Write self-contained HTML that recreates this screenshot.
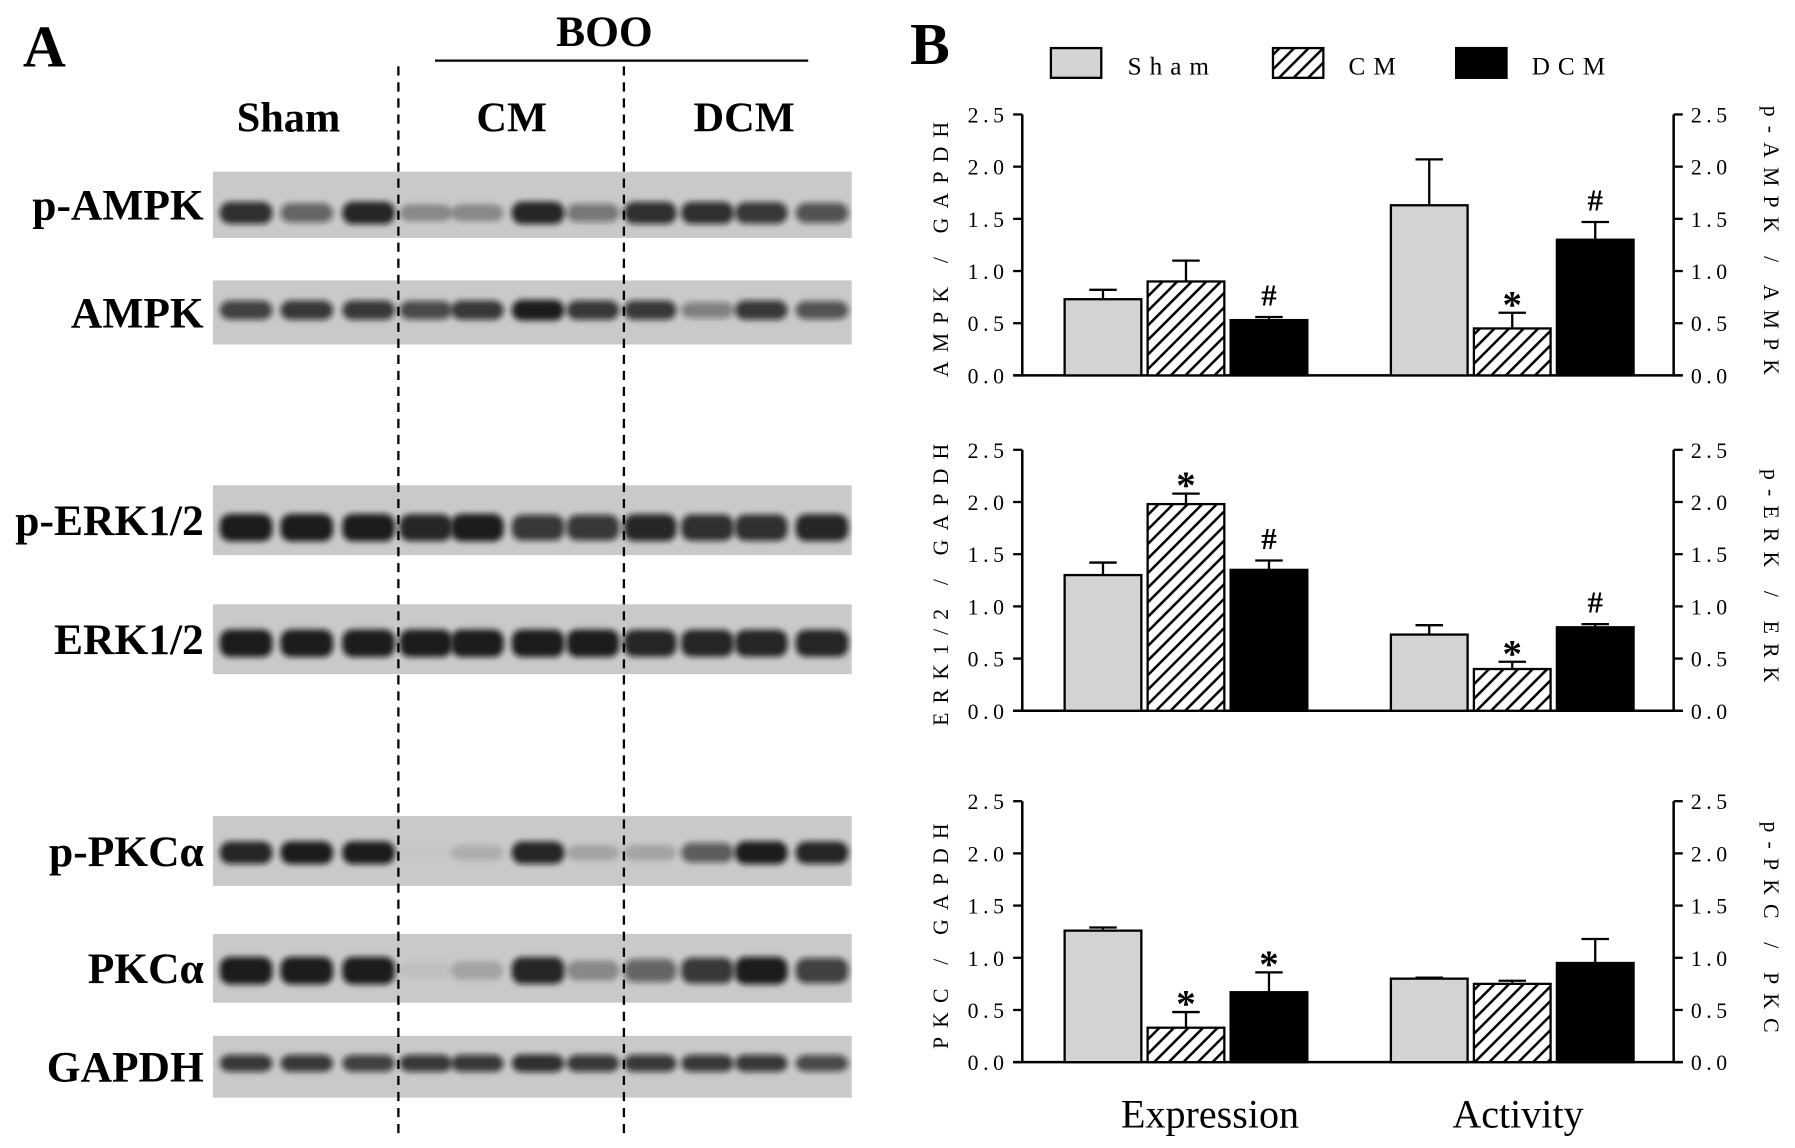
<!DOCTYPE html>
<html><head><meta charset="utf-8"><style>
html,body{margin:0;padding:0;background:#fff;}
svg{display:block;}
text{font-family:"Liberation Serif",serif;}
</style></head><body>
<svg id="fig" width="1795" height="1148" viewBox="0 0 1568 1003" preserveAspectRatio="none" xmlns="http://www.w3.org/2000/svg">
<defs>
<pattern id="hatch" patternUnits="userSpaceOnUse" width="9" height="9" patternTransform="rotate(45)">
<rect width="9" height="9" fill="#fff"/><rect x="0" y="0" width="2.2" height="9" fill="#000"/>
</pattern>
<filter id="blur" x="-40%" y="-100%" width="180%" height="300%"><feGaussianBlur stdDeviation="2.6"/></filter>
</defs>
<g id="panelA">
<text x="20" y="58" font-size="52" font-weight="bold">A</text>
<text x="528" y="40" font-size="38" font-weight="bold" text-anchor="middle">BOO</text>
<line x1="380" y1="53" x2="706" y2="53" stroke="#000" stroke-width="2"/>
<text x="252" y="115" font-size="37" font-weight="bold" text-anchor="middle">Sham</text>
<text x="447" y="115" font-size="37" font-weight="bold" text-anchor="middle">CM</text>
<text x="650" y="115" font-size="37" font-weight="bold" text-anchor="middle">DCM</text>
<g id="blots"></g>
<line x1="348" y1="58" x2="348" y2="990" stroke="#000" stroke-width="2" stroke-dasharray="8,6"/>
<line x1="545" y1="58" x2="545" y2="990" stroke="#000" stroke-width="2" stroke-dasharray="8,6"/>
</g>
<g id="panelB">
<text x="795" y="56" font-size="52" font-weight="bold">B</text>
<g>
<g><rect x="918" y="42" width="44" height="26" fill="#d3d3d3" stroke="#000" stroke-width="2"/><text x="985" y="65" font-size="22" letter-spacing="7">Sham</text></g>
<g><rect x="1112" y="42" width="44" height="26" fill="url(#hatch)" stroke="#000" stroke-width="2"/><text x="1178" y="65" font-size="22" letter-spacing="7">CM</text></g>
<g><rect x="1272" y="42" width="44" height="26" fill="#000" stroke="#000" stroke-width="2"/><text x="1338" y="65" font-size="22" letter-spacing="7">DCM</text></g>
</g>
<g id="charts"></g>
<text x="1057" y="985" font-size="35" text-anchor="middle">Expression</text>
<text x="1326" y="985" font-size="35" text-anchor="middle">Activity</text>
</g>
</svg>
<script>
// ---- chart data ----
const groups = ["Expression", "Activity"];
const seriesNames = ["Sham", "CM", "DCM"];
const ampkMeans = [[0.73, 0.90, 0.53], [1.63, 0.45, 1.30]];
const ampkErrs  = [[0.09, 0.20, 0.03], [0.44, 0.15, 0.17]];
const ampkMarks = [["", "", "#"], ["", "*", "#"]];
const erkMeans = [[1.30, 1.98, 1.35], [0.73, 0.40, 0.80]];
const erkErrs  = [[0.12, 0.10, 0.09], [0.09, 0.07, 0.03]];
const erkMarks = [["", "*", "#"], ["", "*", "#"]];
const pkcMeans = [[1.26, 0.33, 0.67], [0.80, 0.75, 0.95]];
const pkcErrs  = [[0.03, 0.15, 0.19], [0.01, 0.03, 0.23]];
const pkcMarks = [["", "*", "*"], ["", "", ""]];
const yTicks = [0, 0.5, 1.0, 1.5, 2.0, 2.5];
const leftTitles = ["AMPK / GAPDH", "ERK1/2 / GAPDH", "PKC / GAPDH"];
const rightTitles = ["p-AMPK / AMPK", "p-ERK / ERK", "p-PKC / PKC"];

const NS = "http://www.w3.org/2000/svg";
function mk(tag, attrs, parent){const e=document.createElementNS(NS,tag);for(const k in attrs)e.setAttribute(k,attrs[k]);parent.appendChild(e);return e;}

const panels = [
 {means:ampkMeans, errs:ampkErrs, marks:ampkMarks, y0:328, yTop:100, name:"ampk"},
 {means:erkMeans, errs:erkErrs, marks:erkMarks, y0:621, yTop:393, name:"erk"},
 {means:pkcMeans, errs:pkcErrs, marks:pkcMarks, y0:928, yTop:700, name:"pkc"}
];
const xL = 893, xR = 1462;
const groupStart = [930, 1215];
const barW = 67, barStep = 72.5;
const fills = ["#d3d3d3", "url(#hatch)", "#000"];
const chartsG = document.getElementById("charts");

panels.forEach((p, pi) => {
  const g = mk("g", {}, chartsG);
  
  
  const yScale = v => p.y0 - (v / 2.5) * (p.y0 - p.yTop);
  const axL = mk("line", {x1:xL,y1:p.yTop,x2:xL,y2:p.y0,stroke:"#000","stroke-width":2.2}, g);
  
  
  const axR = mk("line", {x1:xR,y1:p.yTop,x2:xR,y2:p.y0,stroke:"#000","stroke-width":2.2}, g);
  
  
  const axX = mk("line", {x1:xL-8,y1:p.y0,x2:xR+8,y2:p.y0,stroke:"#000","stroke-width":2.2}, g);
  
  
  yTicks.forEach(t => {
    const y = yScale(t);
    mk("line", {x1:xL-8,y1:y,x2:xL,y2:y,stroke:"#000","stroke-width":2}, g);
    mk("line", {x1:xR,y1:y,x2:xR+8,y2:y,stroke:"#000","stroke-width":2}, g);
    const lt = mk("text", {x:xL-12,y:y+7,"font-size":19,"text-anchor":"end","letter-spacing":"4"}, g);
    lt.textContent = t.toFixed(1);
    
    
    const rt = mk("text", {x:xR+15,y:y+7,"font-size":19,"letter-spacing":"4"}, g);
    rt.textContent = t.toFixed(1);
    
    
  });
  const cy = (p.y0 + p.yTop) / 2;
  const ltl = mk("text", {x:0,y:0,"font-size":19,"text-anchor":"middle","letter-spacing":"8",transform:`translate(828,${cy}) rotate(-90)`}, g);
  ltl.textContent = leftTitles[pi];
  
  
  const rtl = mk("text", {x:0,y:0,"font-size":19,"text-anchor":"middle","letter-spacing":"8",transform:`translate(1541,${cy}) rotate(90)`}, g);
  rtl.textContent = rightTitles[pi];
  
  
  groups.forEach((grp, gi) => {
    seriesNames.forEach((s, si) => {
      const v = p.means[gi][si], e = p.errs[gi][si];
      const x = groupStart[gi] + si * barStep;
      const yv = yScale(v), ye = yScale(v + e);
      const cx = x + barW / 2;
      const el = mk("line", {x1:cx,y1:yv,x2:cx,y2:ye,stroke:"#000","stroke-width":2}, g);
      
      
      mk("line", {x1:cx-12,y1:ye,x2:cx+12,y2:ye,stroke:"#000","stroke-width":2}, g);
      const r = mk("rect", {x:x,y:yv,width:barW,height:p.y0-yv,fill:fills[si],stroke:"#000","stroke-width":2}, g);
      
      
      const m = p.marks[gi][si];
      if (m) {
        const mt = mk("text", {x:cx,y:ye-(m==="*"?-4:10),"font-size":m==="*"?34:27,"text-anchor":"middle","font-weight":"bold"}, g);
        mt.textContent = m;
        
        
      }
    });
  });
});

// ---- blots (decorative image) ----
const lanes = [215,268,322,372,417,470,518,568,618,665,718];
const strips = [
 {label:"p-AMPK", y:150, h:58, by:186, bh:20, ints:[0.9,0.6,0.95,0.35,0.35,0.95,0.5,0.9,0.9,0.85,0.7]},
 {label:"AMPK", y:245, h:56, by:271, bh:18, ints:[0.8,0.85,0.85,0.75,0.85,1,0.85,0.85,0.45,0.85,0.7]},
 {label:"p-ERK1/2", y:424, h:61, by:461, bh:24, ints:[1,1,1,0.95,1,0.85,0.85,0.95,0.9,0.9,0.95]},
 {label:"ERK1/2", y:528, h:61, by:562, bh:24, ints:[1,1,1,1,1,1,1,0.95,0.95,0.95,0.95]},
 {label:"p-PKCα", y:713, h:61, by:745, bh:20, ints:[0.95,1,1,0.02,0.15,0.95,0.2,0.2,0.65,1,0.95]},
 {label:"PKCα", y:816, h:60, by:848, bh:24, ints:[1,1,1,0.05,0.2,0.95,0.35,0.6,0.85,1,0.8]},
 {label:"GAPDH", y:905, h:54, by:929, bh:16, ints:[0.85,0.85,0.8,0.85,0.85,0.9,0.85,0.85,0.85,0.85,0.75]}
];
const blotG = document.getElementById("blots");
strips.forEach(st => {
  const g = mk("g", {}, blotG);
  
  
  mk("rect", {x:186,y:st.y,width:558,height:st.h,fill:"#c9c9c9"}, g);
  st.ints.forEach((a, i) => {
    const hh = st.bh*(0.6+0.4*a);
    mk("rect", {x:lanes[i]-23,y:st.by-hh/2,width:46,height:hh,rx:9,fill:"#111","fill-opacity":a*0.92,filter:"url(#blur)"}, g);
  });
  const t = mk("text", {x:178,y:st.y+st.h/2+13,"font-size":38,"font-weight":"bold","text-anchor":"end"}, g);
  t.textContent = st.label;
  
  
});
</script>
</body></html>
